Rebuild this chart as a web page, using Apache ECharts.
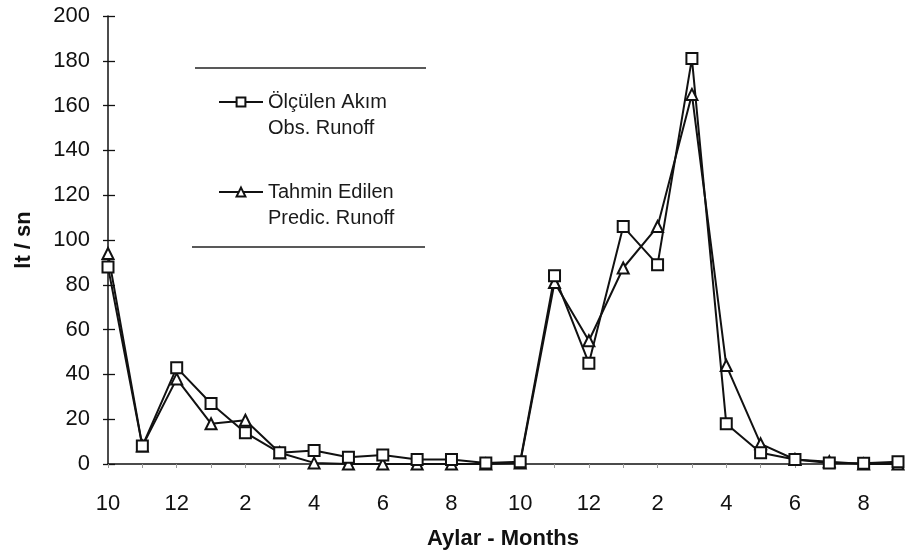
<!DOCTYPE html>
<html>
<head>
<meta charset="utf-8">
<script src="https://cdn.jsdelivr.net/npm/echarts@6/dist/echarts.min.js"></script>
<style>
  html, body { margin: 0; padding: 0; background: #fff; }
  #chart { width: 905px; height: 558px; }
</style>
</head>
<body>
<div id="chart"></div>
<script>
// Months (Oct of year 1 to Sep of year 2, twice)
const months = ['10','11','12','1','2','3','4','5','6','7','8','9',
                '10','11','12','1','2','3','4','5','6','7','8','9'];
// Observed runoff (lt/sn)
const observed = [88, 8, 43, 27, 14, 5, 6, 3, 4, 2, 2, 0.5,
                  1, 84, 45, 106, 89, 181, 18, 5, 2, 0.5, 0.3, 1];
// Predicted runoff (lt/sn)
const predicted = [94, 8, 38, 18, 19.5, 5, 0.5, 0, 0, 0, 0, 0,
                   0.5, 81, 55, 87.5, 106, 165, 44, 9, 2, 1, 0, 0];
const seriesNames = ['Ölçülen Akım\nObs. Runoff', 'Tahmin Edilen\nPredic. Runoff'];
const yTicks = { min: 0, max: 200, interval: 20 };

const chart = echarts.init(document.getElementById('chart'), null, { renderer: 'canvas' });
const font = '"Liberation Sans", Arial, sans-serif';
const gridLeft = 108, gridRight = 7;
chart.setOption({
  animation: false,
  backgroundColor: '#ffffff',
  grid: { left: gridLeft, right: gridRight, top: 16, bottom: 94, containLabel: false },
  legend: {
    orient: 'vertical',
    left: 218,
    top: 63,
    padding: 0,
    itemGap: 12,
    itemWidth: 44,
    itemHeight: 11,
    selectedMode: false,
    formatter: function (name) { return '\n' + name; },
    textStyle: { fontFamily: font, fontSize: 20, color: '#1a1a1a', lineHeight: 26 },
    data: seriesNames
  },
  graphic: [
    { type: 'line', shape: { x1: 195, y1: 68, x2: 426, y2: 68 }, style: { stroke: '#222', lineWidth: 1.5 } },
    { type: 'line', shape: { x1: 192, y1: 247, x2: 425, y2: 247 }, style: { stroke: '#222', lineWidth: 1.5 } }
  ],
  xAxis: {
    type: 'category',
    data: months,
    boundaryGap: false,
    axisLine: { lineStyle: { color: '#111', width: 1.5 } },
    axisTick: { show: true, interval: 0, length: 4, lineStyle: { color: '#999' } },
    axisLabel: { interval: 1, fontFamily: font, fontSize: 22, color: '#111', margin: 29 },
    name: 'Aylar - Months',
    nameLocation: 'middle',
    nameGap: 64,
    nameTextStyle: { fontFamily: font, fontSize: 22, fontWeight: 'bold', color: '#111' },
    splitLine: { show: false }
  },
  yAxis: [{
    type: 'value',
    position: 'left',
    min: yTicks.min, max: yTicks.max, interval: yTicks.interval,
    axisLine: { show: true, lineStyle: { color: '#111', width: 1.5 } },
    axisTick: { show: true, length: 5, lineStyle: { color: '#111', width: 1.3 } },
    axisLabel: { fontFamily: font, fontSize: 22, color: '#111', margin: 18 },
    splitLine: { show: false },
    name: 'lt / sn',
    nameLocation: 'middle',
    nameGap: 73,
    nameTextStyle: { fontFamily: font, fontSize: 22, fontWeight: 'bold', color: '#111' }
  }, {
    // companion axis placed on the left edge to draw the inner half of the crossing ticks
    type: 'value',
    position: 'right',
    offset: -(905 - gridLeft - gridRight),
    min: yTicks.min, max: yTicks.max, interval: yTicks.interval,
    axisLine: { show: false },
    axisTick: { show: true, inside: false, length: 7, lineStyle: { color: '#111', width: 1.3 } },
    axisLabel: { show: false },
    splitLine: { show: false }
  }],
  series: [{
    name: seriesNames[1],
    type: 'line',
    data: predicted,
    symbol: 'emptyTriangle',
    symbolSize: 11,
    itemStyle: { color: '#111', borderWidth: 1.6 },
    lineStyle: { color: '#111', width: 2 }
  }, {
    name: seriesNames[0],
    type: 'line',
    data: observed,
    symbol: 'emptyRect',
    symbolSize: 11,
    itemStyle: { color: '#111', borderWidth: 1.6 },
    lineStyle: { color: '#111', width: 2 }
  }]
});
</script>
</body>
</html>
